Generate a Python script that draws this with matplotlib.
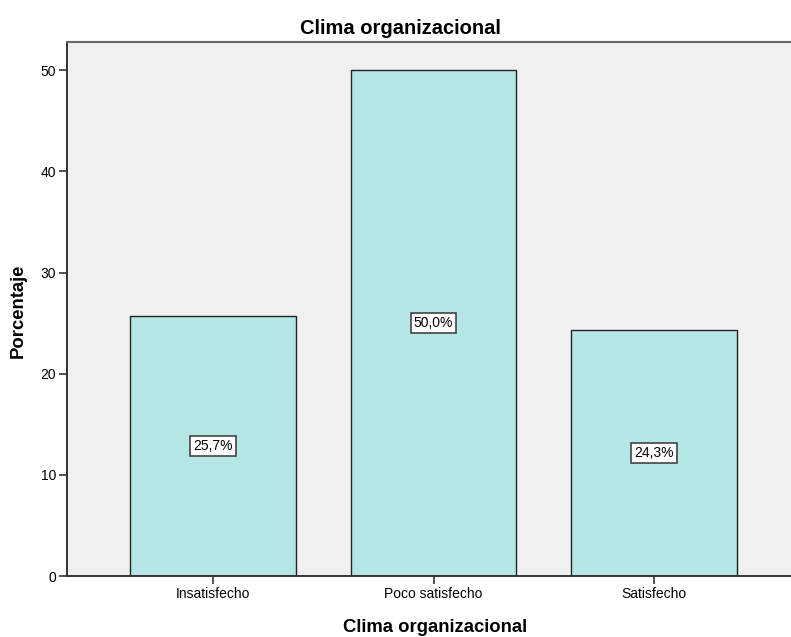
import numpy as np
import matplotlib.pyplot as plt

categorias = ["Insatisfecho", "Poco satisfecho", "Satisfecho"]
porcentajes = [25.7, 50.0, 24.3]
etiquetas = ["25,7%", "50,0%", "24,3%"]
yticks = [0, 10, 20, 30, 40, 50]

fig = plt.figure(figsize=(7.91, 6.37), dpi=100)
ax = fig.add_axes([67 / 791, 1 - 576 / 637, 1 - 67 / 791, (576 - 42) / 637])

ax.set_facecolor("#F0F0F0")
x = np.arange(len(categorias))
ax.bar(x, porcentajes, width=0.75, color="#B4E6E6", edgecolor="#222222", linewidth=1.0, zorder=2)

# etiquetas de porcentaje en el centro de cada barra
for xi, v, txt in zip(x, porcentajes, etiquetas):
    ax.text(xi, v / 2, txt, ha="center", va="center", fontsize=10,
            family="Liberation Sans", zorder=3,
            bbox=dict(boxstyle="square,pad=0.22", fc="white", ec="#444444", lw=1.2))

ax.set_xlim(-0.662, 2.621)
ax.set_ylim(0, 52.8)
ax.set_xticks(x)
ax.set_xticklabels(categorias, fontsize=10, family="Liberation Sans")
ax.set_yticks(yticks)
ax.set_yticklabels([str(t) for t in yticks], fontsize=10, family="Liberation Sans")
ax.tick_params(axis="y", direction="out", length=6, width=1.2, color="#333333", pad=2)
ax.tick_params(axis="x", direction="out", length=6, width=1.2, color="#333333", pad=2)

for side in ["left", "bottom"]:
    ax.spines[side].set_color("#333333")
    ax.spines[side].set_linewidth(1.4)
ax.spines["top"].set_color("#666666")
ax.spines["top"].set_linewidth(1.5)
ax.spines["right"].set_visible(False)

fig.text(400 / 791, 1 - 28 / 637, "Clima organizacional", ha="center", va="center",
         fontsize=14.5, fontweight="bold", family="Liberation Sans")
fig.text(435 / 791, 1 - 627 / 637, "Clima organizacional", ha="center", va="center",
         fontsize=13.3, fontweight="bold", family="Liberation Sans")
fig.text(18 / 791, 1 - 311 / 637, "Porcentaje", ha="center", va="center", rotation=90,
         fontsize=13.3, fontweight="bold", family="Liberation Sans")

fig.savefig("out.png", dpi=100)
